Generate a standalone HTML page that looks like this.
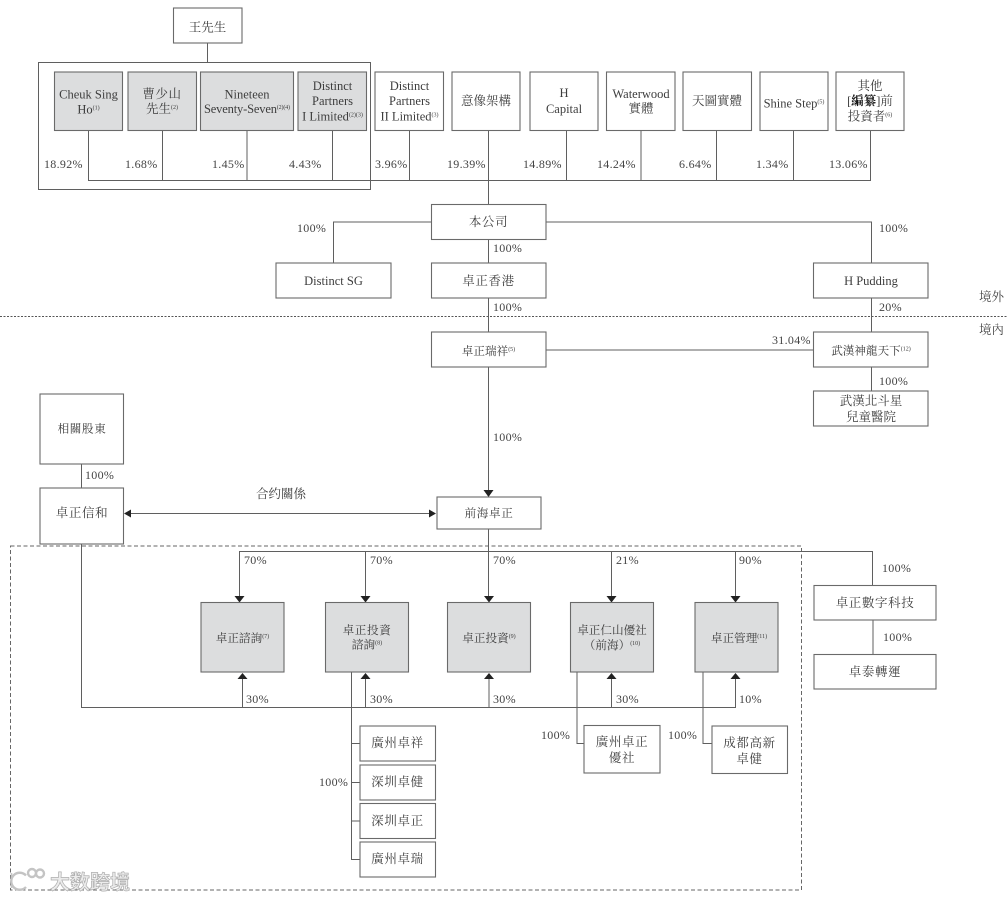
<!DOCTYPE html>
<html lang="zh-Hant">
<head>
<meta charset="utf-8">
<title>Structure chart</title>
<style>
html,body{margin:0;padding:0;background:#fff;width:1008px;height:900px;overflow:hidden}
svg{display:block;filter:blur(.3px)}
text{font-family:"Liberation Serif","Noto Serif CJK TC","Noto Serif CJK SC",serif;font-size:12.5px;fill:#3d3d3d}
.m{text-anchor:middle}
.c{letter-spacing:.6px}
.h{font-size:11.6px}
.p{font-size:12px;fill:#444;letter-spacing:.3px}
tspan.s{font-size:6px}
.b{fill:#fff;stroke:#6a6a6a;stroke-width:1.1}
.g{fill:#dcddde;stroke:#6a6a6a;stroke-width:1.1}
.l{fill:none;stroke:#5f5f5f;stroke-width:1}
.a{fill:#222}
</style>
</head>
<body>
<svg width="1008" height="900" viewBox="0 0 1008 900" xmlns="http://www.w3.org/2000/svg">
<!-- outer grouping boxes -->
<rect x="38.5" y="62.5" width="332" height="127" class="l"/>
<rect x="10.5" y="546" width="791" height="344" fill="none" stroke="#666" stroke-width="1" stroke-dasharray="4 2.5"/>
<line x1="0" y1="316.5" x2="1008" y2="316.5" stroke="#555" stroke-width="1" stroke-dasharray="2 1.5"/>

<!-- connectors -->
<path class="l" d="M207.5 43V62M88.5 130V180.5H870.5V130M162.5 130V180M247 130V180M332.5 130V180M409.5 130V180M488.5 130V205M566.5 130V180M641 130V180M716.5 130V180M793.5 130V180"/>
<path class="l" d="M431 222H333.5V263M546 222H871.5V263M488.5 239V263M488.5 298V332M871.5 298V332M546 350H814M871.5 367V391M488.5 367V491"/>
<path class="l" d="M81.5 464V488M81.5 544V707.5H735.500V679M130 513.5H430M488.5 529V596M239.5 596V551.5H872.5V585M365.5 551.5V596M611.5 551.5V596M735.5 551.5V596M242.5 707V679M365.5 707V679M489 707V679M611.5 707V679M873 620V654"/>
<path class="l" d="M351.5 672V859.5H360M351.5 743.5H360M351.5 782.5H360M351.5 821H360M577 672V743.5H584M703 672V743.5H712"/>
<!-- arrowheads -->
<path class="a" d="M483.5 490H493.5L488.5 497ZM124 513.5L131 509.5V517.5ZM436 513.5L429 509.5V517.5ZM234.5 596H244.5L239.5 602.5ZM360.5 596H370.5L365.5 602.5ZM484 596H494L489 602.5ZM606.5 596H616.5L611.5 602.5ZM730.5 596H740.5L735.5 602.5ZM237.5 679H247.5L242.5 673ZM360.5 679H370.5L365.5 673ZM484 679H494L489 673ZM606.5 679H616.5L611.5 673ZM730.5 679H740.5L735.5 673Z"/>

<!-- top boxes -->
<rect x="173.5" y="8" width="68.5" height="35" class="b"/>
<rect x="54.5" y="72" width="68" height="58.5" class="g"/>
<rect x="128" y="72" width="68.5" height="58.5" class="g"/>
<rect x="200.5" y="72" width="93" height="58.5" class="g"/>
<rect x="298" y="72" width="68.5" height="58.5" class="g"/>
<rect x="375" y="72" width="68.5" height="58.5" class="b"/>
<rect x="452" y="72" width="68" height="58.5" class="b"/>
<rect x="530" y="72" width="68" height="58.5" class="b"/>
<rect x="606.5" y="72" width="68.5" height="58.5" class="b"/>
<rect x="683" y="72" width="68.5" height="58.5" class="b"/>
<rect x="760" y="72" width="68" height="58.5" class="b"/>
<rect x="836" y="72" width="68" height="58.5" class="b"/>

<!-- middle boxes -->
<rect x="431.5" y="204.5" width="114.5" height="35" class="b"/>
<rect x="276" y="263" width="115" height="35" class="b"/>
<rect x="431.5" y="263" width="114.5" height="35" class="b"/>
<rect x="813.5" y="263" width="114.5" height="35" class="b"/>
<rect x="431.5" y="332" width="114.5" height="35" class="b"/>
<rect x="813.5" y="332" width="114.5" height="35" class="b"/>
<rect x="813.5" y="391" width="114.5" height="35" class="b"/>
<rect x="40" y="394" width="83.5" height="70" class="b"/>
<rect x="40" y="488" width="83.5" height="56" class="b"/>
<rect x="437" y="497" width="104" height="32" class="b"/>

<!-- gray subsidiaries -->
<rect x="201" y="602.5" width="83" height="69.5" class="g"/>
<rect x="325.5" y="602.5" width="83" height="69.5" class="g"/>
<rect x="447.5" y="602.5" width="83" height="69.5" class="g"/>
<rect x="570.5" y="602.5" width="83" height="69.5" class="g"/>
<rect x="695" y="602.5" width="83" height="69.5" class="g"/>

<!-- lower boxes -->
<rect x="360" y="726" width="75.5" height="35" class="b"/>
<rect x="360" y="765" width="75.5" height="35" class="b"/>
<rect x="360" y="803.5" width="75.5" height="35" class="b"/>
<rect x="360" y="842" width="75.5" height="35" class="b"/>
<rect x="584" y="725.5" width="76" height="47.5" class="b"/>
<rect x="712" y="726" width="75.5" height="47.5" class="b"/>
<rect x="814" y="585.5" width="122" height="34.5" class="b"/>
<rect x="814" y="654.5" width="122" height="34.5" class="b"/>

<!-- box text -->
<text class="m" x="207.5" y="31.5">王先生</text>
<text class="m" x="88.5" y="98.5">Cheuk Sing</text>
<text class="m" x="88.5" y="113.5">Ho<tspan class="s" dy="-4">(1)</tspan></text>
<text class="m c" x="162" y="98">曹少山</text>
<text class="m" x="162" y="113">先生<tspan class="s" dy="-4">(2)</tspan></text>
<text class="m" x="247" y="98.5">Nineteen</text>
<text class="m" x="247" y="113" textLength="86" lengthAdjust="spacing">Seventy-Seven<tspan class="s" dy="-4">(2)(4)</tspan></text>
<text class="m" x="332.5" y="90">Distinct</text>
<text class="m" x="332.5" y="105">Partners</text>
<text class="m" x="332.5" y="120.5">I Limited<tspan class="s" dy="-4">(2)(3)</tspan></text>
<text class="m" x="409.5" y="90">Distinct</text>
<text class="m" x="409.5" y="105">Partners</text>
<text class="m" x="409.5" y="120.5">II Limited<tspan class="s" dy="-4">(3)</tspan></text>
<text class="m" x="486" y="105">意像架構</text>
<text class="m" x="564" y="97">H</text>
<text class="m" x="564" y="113">Capital</text>
<text class="m" x="641" y="98">Waterwood</text>
<text class="m" x="641" y="112.5">實體</text>
<text class="m" x="717" y="105">天圖實體</text>
<text class="m" x="794" y="107.5">Shine Step<tspan class="s" dy="-4">(5)</tspan></text>
<text class="m" x="870" y="90">其他</text>
<text class="m" x="870" y="105">[<tspan font-weight="bold" style="fill:#111">編纂</tspan>]前</text>
<text class="m" x="870" y="120.5">投資者<tspan class="s" dy="-4">(6)</tspan></text>

<text class="m c" x="488.5" y="226">本公司</text>
<text class="m" x="333.5" y="285">Distinct SG</text>
<text class="m c" x="488.5" y="285">卓正香港</text>
<text class="m" x="871" y="285">H Pudding</text>
<text class="m h" x="488.5" y="355">卓正瑞祥<tspan class="s" dy="-4">(5)</tspan></text>
<text class="m h" x="871" y="354.5">武漢神龍天下<tspan class="s" dy="-4">(12)</tspan></text>
<text class="m" x="871" y="405">武漢北斗星</text>
<text class="m" x="871" y="421">兒童醫院</text>
<text class="m h c" x="82" y="432.500">相關股東</text>
<text class="m c" x="82" y="517">卓正信和</text>
<text class="m h c" x="489" y="517">前海卓正</text>

<text class="m h" x="242.5" y="642">卓正諮詢<tspan class="s" dy="-4">(7)</tspan></text>
<text class="m h c" x="367" y="634">卓正投資</text>
<text class="m h" x="367" y="648.5">諮詢<tspan class="s" dy="-4">(8)</tspan></text>
<text class="m h" x="489" y="642">卓正投資<tspan class="s" dy="-4">(9)</tspan></text>
<text class="m h" x="612" y="634">卓正仁山優社</text>
<text class="m h" x="612" y="649">（前海）<tspan class="s" dy="-4">(10)</tspan></text>
<text class="m h" x="739" y="642">卓正管理<tspan class="s" dy="-4">(11)</tspan></text>

<text class="m c" x="397.5" y="747">廣州卓祥</text>
<text class="m c" x="397.5" y="786">深圳卓健</text>
<text class="m c" x="397.5" y="825">深圳卓正</text>
<text class="m c" x="397.5" y="863">廣州卓瑞</text>
<text class="m c" x="622" y="746">廣州卓正</text>
<text class="m c" x="622" y="762">優社</text>
<text class="m c" x="749.5" y="747">成都高新</text>
<text class="m c" x="749.5" y="763">卓健</text>
<text class="m c" x="875" y="607">卓正數字科技</text>
<text class="m c" x="875" y="676">卓泰轉運</text>

<!-- percentages -->
<g class="pct">
<text class="p" x="44" y="168">18.92%</text>
<text class="p" x="125" y="168">1.68%</text>
<text class="p" x="212" y="168">1.45%</text>
<text class="p" x="289" y="168">4.43%</text>
<text class="p" x="375" y="168">3.96%</text>
<text class="p" x="447" y="168">19.39%</text>
<text class="p" x="523" y="168">14.89%</text>
<text class="p" x="597" y="168">14.24%</text>
<text class="p" x="679" y="168">6.64%</text>
<text class="p" x="756" y="168">1.34%</text>
<text class="p" x="829" y="168">13.06%</text>
<text class="p" x="297" y="232">100%</text>
<text class="p" x="493" y="252">100%</text>
<text class="p" x="879" y="232">100%</text>
<text class="p" x="493" y="311">100%</text>
<text class="p" x="879" y="311">20%</text>
<text class="p" x="772" y="344">31.04%</text>
<text class="p" x="879" y="385">100%</text>
<text class="p" x="493" y="441">100%</text>
<text class="p" x="85" y="479">100%</text>
<text class="p" x="244" y="564">70%</text>
<text class="p" x="370" y="564">70%</text>
<text class="p" x="493" y="564">70%</text>
<text class="p" x="616" y="564">21%</text>
<text class="p" x="739" y="564">90%</text>
<text class="p" x="882" y="572">100%</text>
<text class="p" x="883" y="641">100%</text>
<text class="p" x="246" y="703">30%</text>
<text class="p" x="370" y="703">30%</text>
<text class="p" x="493" y="703">30%</text>
<text class="p" x="616" y="703">30%</text>
<text class="p" x="739" y="703">10%</text>
<text class="p" x="319" y="786">100%</text>
<text class="p" x="541" y="739">100%</text>
<text class="p" x="668" y="739">100%</text>
</g>
<text x="256" y="498">合约關係</text>
<text x="979" y="301" style="fill:#444">境外</text>
<text x="979" y="334" style="fill:#444">境內</text>

<!-- watermark -->
<rect x="12" y="868" width="122" height="20" fill="#fff" opacity=".6"/>
<g fill="none" stroke="#c4c4c4" stroke-width="2.4">
<path d="M26 875.500A8.500 8.500 0 1 0 26 887"/>
<path d="M11.500 873V888" stroke-width="1.600"/>
<circle cx="32" cy="873" r="4"/>
<circle cx="40" cy="873.500" r="4"/>
</g>
<text x="50" y="889" style="font-family:'Noto Sans CJK SC',sans-serif;font-size:20px;font-weight:700;fill:#ececec;stroke:#adadad;stroke-width:.7">大数跨境</text>
</svg>
</body>
</html>
